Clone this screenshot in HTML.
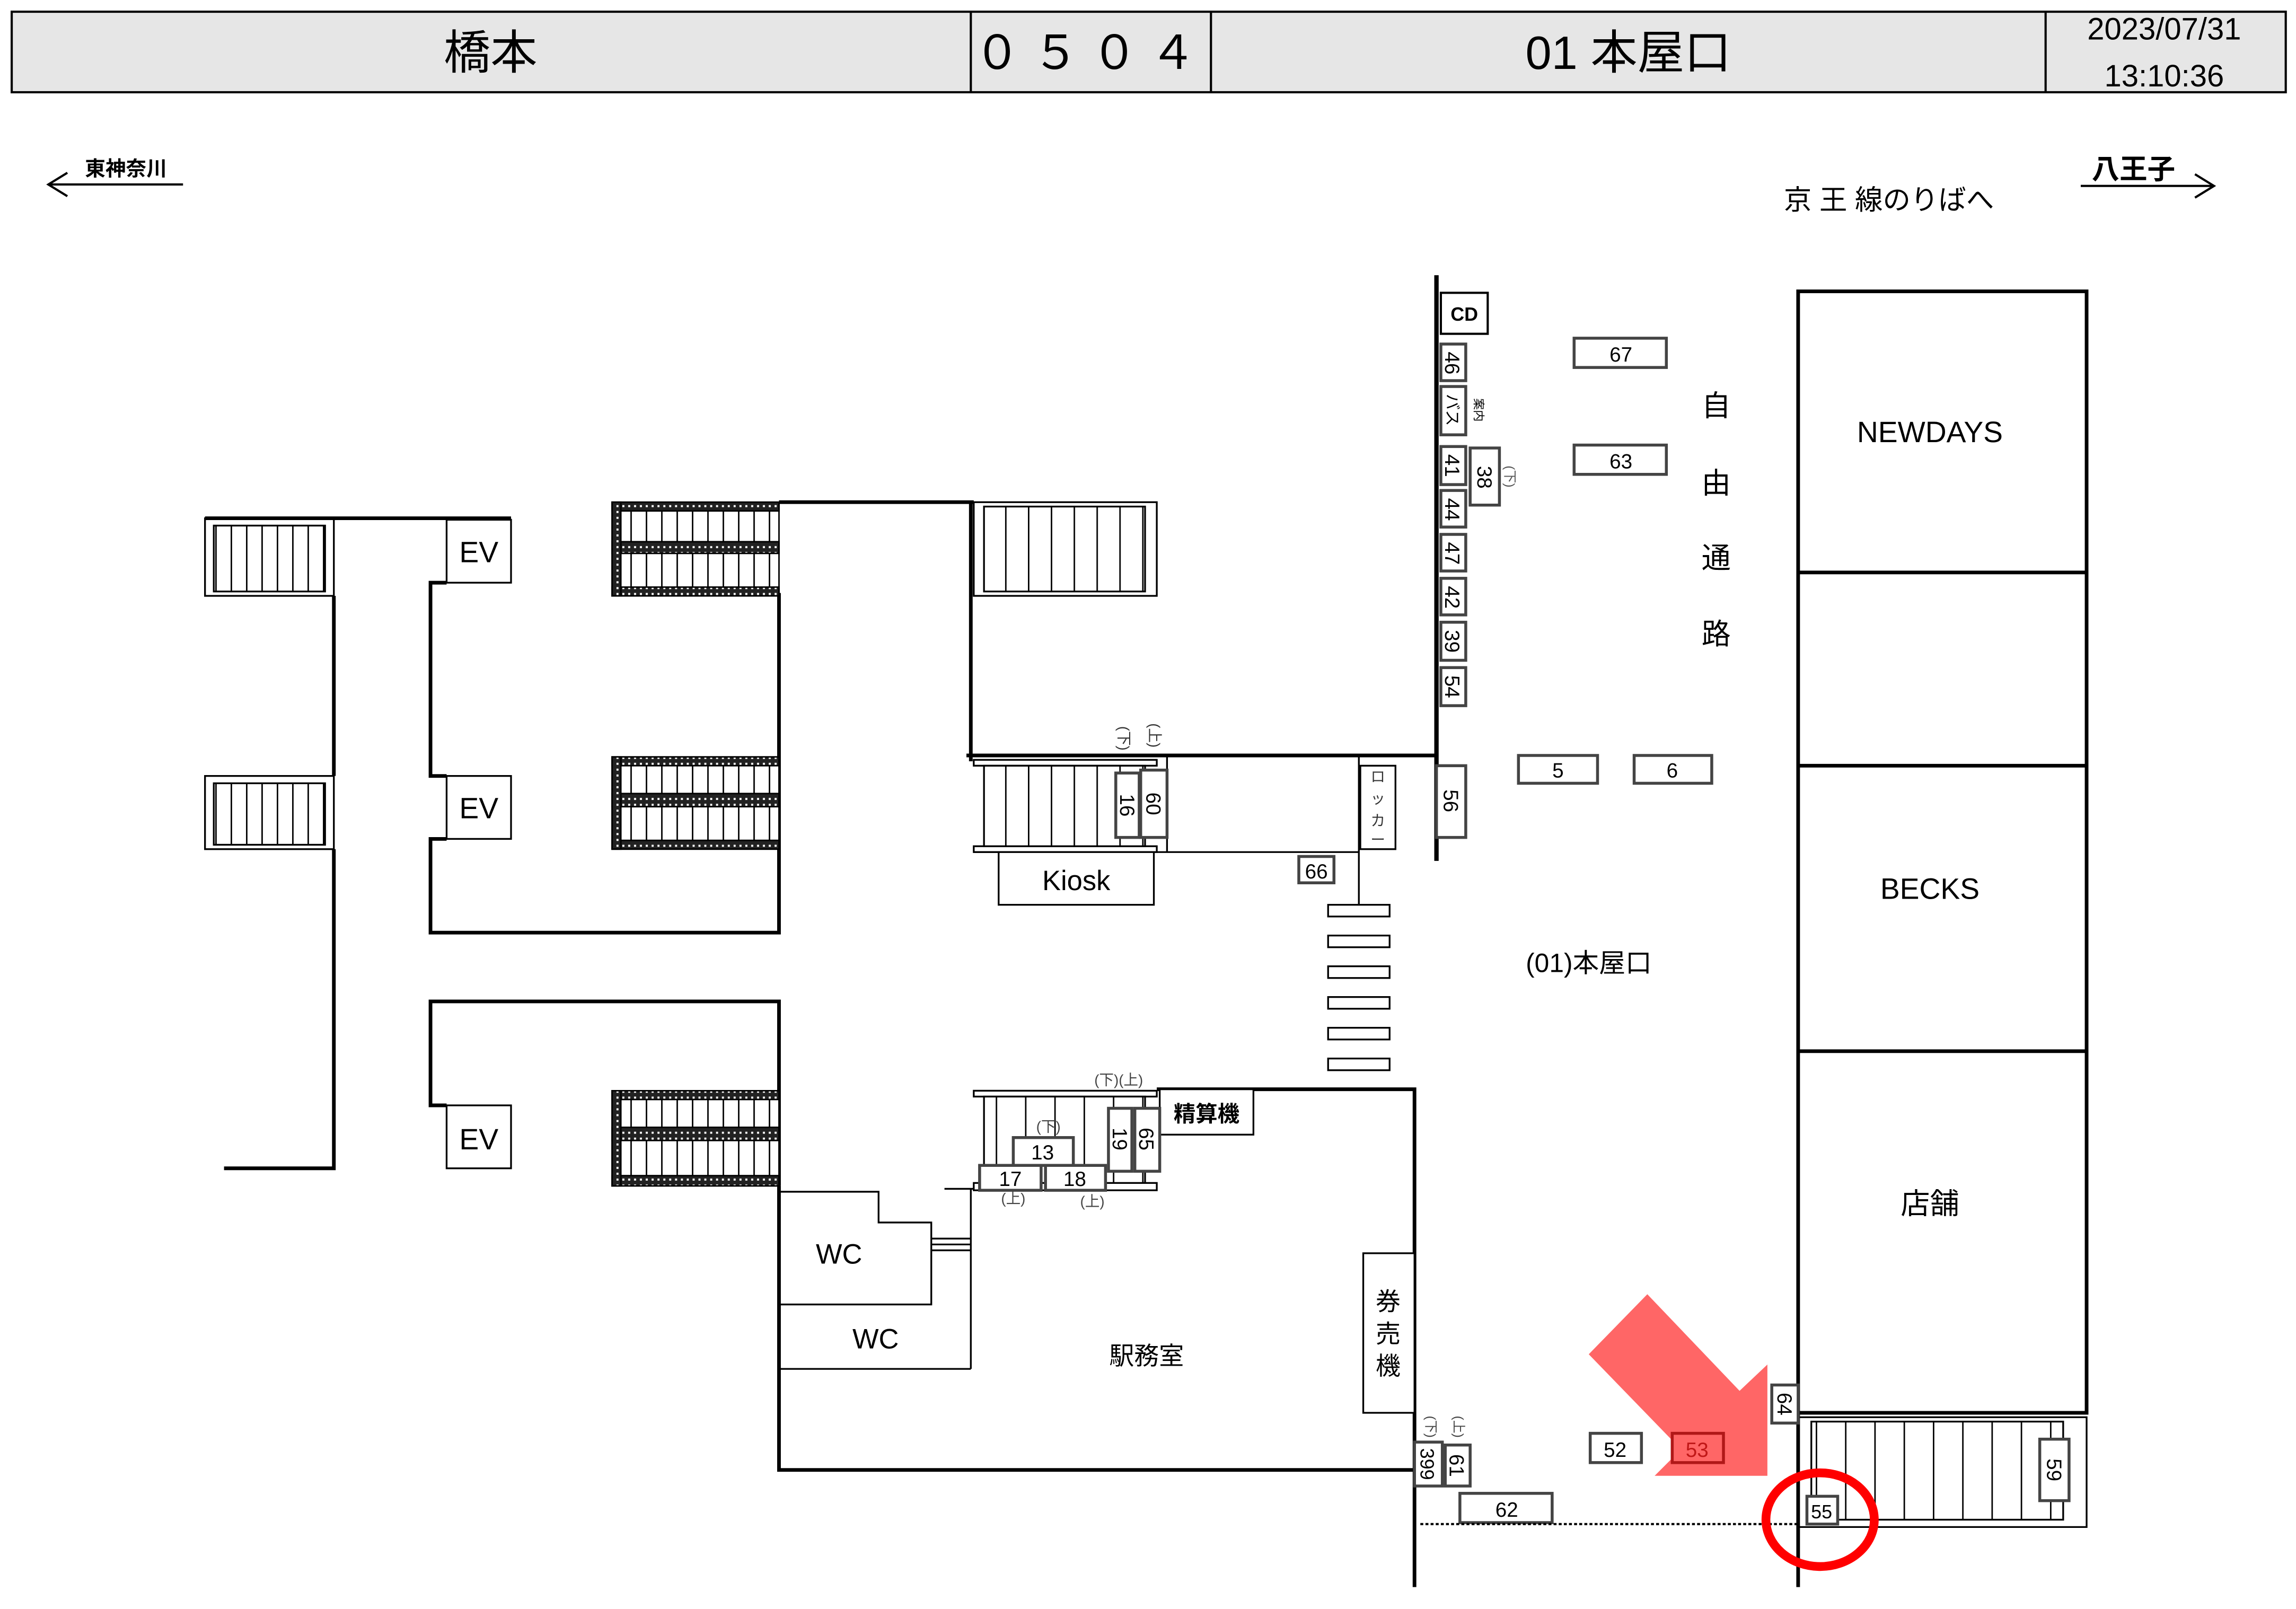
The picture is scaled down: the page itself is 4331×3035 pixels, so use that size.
<!DOCTYPE html>
<html><head><meta charset="utf-8"><style>html,body{margin:0;padding:0;background:#fff}svg{display:block}</style></head>
<body>
<svg width="4331" height="3035" viewBox="0 0 1568 1099" preserveAspectRatio="none" xmlns="http://www.w3.org/2000/svg" font-family="'Liberation Sans','Noto Sans CJK JP',sans-serif">
<defs>
<pattern id="st" width="10.5" height="20" patternUnits="userSpaceOnUse"><rect width="10.5" height="20" fill="#fff"/><line x1="0.5" y1="0" x2="0.5" y2="20" stroke="#000" stroke-width="1"/></pattern>
<pattern id="st2" width="15.6" height="20" patternUnits="userSpaceOnUse"><rect width="15.6" height="20" fill="#fff"/><line x1="0.5" y1="0" x2="0.5" y2="20" stroke="#000" stroke-width="1"/></pattern>
<pattern id="st3" width="20" height="20" patternUnits="userSpaceOnUse"><rect width="20" height="20" fill="#fff"/><line x1="0.5" y1="0" x2="0.5" y2="20" stroke="#000" stroke-width="1"/></pattern>
<pattern id="hat" width="4" height="4" patternUnits="userSpaceOnUse"><rect width="4" height="4" fill="#222"/><rect x="1" y="1" width="1.4" height="1.4" fill="#fff"/></pattern>
</defs>
<rect width="1568" height="1099" fill="#fff"/>
<!-- header -->
<rect x="8" y="8" width="1553" height="55" fill="#e6e6e6" stroke="#000" stroke-width="1.5"/>
<g stroke="#000" stroke-width="1.5"><line x1="663" y1="8" x2="663" y2="63"/><line x1="827" y1="8" x2="827" y2="63"/><line x1="1397" y1="8" x2="1397" y2="63"/></g>
<g text-anchor="middle" fill="#000">
<text x="335" y="47" font-size="32">橋本</text>
<text x="745" y="47" font-size="32" letter-spacing="8">０５０４</text>
<text x="1112" y="47" font-size="32">01 本屋口</text>
<text x="1478" y="27" font-size="21">2023/07/31</text>
<text x="1478" y="59" font-size="21">13:10:36</text>
</g>
<!-- direction arrows -->
<g stroke="#000" stroke-width="1.5" fill="none">
<line x1="33" y1="126" x2="125" y2="126"/><polyline points="46,118 33,126 46,134"/>
<line x1="1421" y1="127" x2="1512" y2="127"/><polyline points="1499,119 1512,127 1499,135"/>
</g>
<text x="86" y="120" font-size="14" font-weight="bold" text-anchor="middle">東神奈川</text>
<text x="1457" y="122" font-size="19" font-weight="bold" text-anchor="middle">八王子</text>
<text x="1290" y="143" font-size="19" text-anchor="middle">京 王 線のりばへ</text>

<!-- left structure -->
<g stroke="#000" stroke-width="2.5" fill="none">
<polyline points="140,354 349,354"/>
<polyline points="228,407 228,530"/>
<polyline points="228,580 228,798 153,798"/>
<polyline points="305,398 294,398 294,530 305,530"/>
<polyline points="305,573 294,573 294,637 532,637 532,405"/>
<polyline points="532,343 665,343"/>
<polyline points="532,810 532,684 294,684 294,755 305,755"/>
</g>
<g stroke="#000" stroke-width="1.2">
<rect x="140" y="354" width="88" height="53" fill="none"/><rect x="146" y="359" width="76" height="45" fill="url(#st)"/>
<rect x="140" y="530" width="88" height="50" fill="none"/><rect x="146" y="535" width="76" height="42" fill="url(#st)"/>
<rect x="305" y="355" width="44" height="43" fill="#fff"/><rect x="305" y="530" width="44" height="43" fill="#fff"/><rect x="305" y="755" width="44" height="43" fill="#fff"/>
</g>
<g font-size="20" text-anchor="middle"><text x="327" y="384">EV</text><text x="327" y="559">EV</text><text x="327" y="785">EV</text></g>
<!-- hatched stairs -->
<g stroke="#000" stroke-width="1">
<rect x="418" y="343" width="114" height="64" fill="url(#st)"/>
<rect x="418" y="343" width="114" height="6" fill="url(#hat)"/><rect x="418" y="370" width="114" height="8" fill="url(#hat)"/><rect x="418" y="401" width="114" height="6" fill="url(#hat)"/><rect x="418" y="343" width="6" height="64" fill="url(#hat)"/>
<rect x="418" y="517" width="114" height="63" fill="url(#st)"/>
<rect x="418" y="517" width="114" height="6" fill="url(#hat)"/><rect x="418" y="542" width="114" height="9" fill="url(#hat)"/><rect x="418" y="574" width="114" height="6" fill="url(#hat)"/><rect x="418" y="517" width="6" height="63" fill="url(#hat)"/>
<rect x="418" y="745" width="114" height="65" fill="url(#st)"/>
<rect x="418" y="745" width="114" height="6" fill="url(#hat)"/><rect x="418" y="770" width="114" height="9" fill="url(#hat)"/><rect x="418" y="803" width="114" height="7" fill="url(#hat)"/><rect x="418" y="745" width="6" height="65" fill="url(#hat)"/>
</g>

<!-- middle -->
<g stroke="#000" stroke-width="2.5" fill="none">
<line x1="663" y1="343" x2="663" y2="520"/>
<line x1="660" y1="516" x2="981" y2="516"/>
<line x1="981" y1="188" x2="981" y2="588" stroke-width="3"/>
</g>
<g stroke="#000" stroke-width="1.2">
<rect x="665" y="343" width="125" height="64" fill="none"/><rect x="672" y="346" width="110" height="58" fill="url(#st2)"/>
<rect x="665" y="519" width="125" height="4" fill="#fff"/><rect x="665" y="578" width="125" height="4" fill="#fff"/>
<rect x="672" y="523" width="110" height="55" fill="url(#st2)"/>
<line x1="665" y1="582" x2="928" y2="582"/>
<line x1="797" y1="516" x2="797" y2="582"/>
<rect x="682" y="582" width="106" height="36" fill="#fff"/>
<line x1="928" y1="516" x2="928" y2="622"/>
<rect x="929" y="523" width="24" height="57" fill="#fff"/>
<g fill="#fff"><rect x="907" y="618" width="42" height="8"/><rect x="907" y="639" width="42" height="8"/><rect x="907" y="660" width="42" height="8"/><rect x="907" y="681" width="42" height="8"/><rect x="907" y="702" width="42" height="8"/><rect x="907" y="723" width="42" height="8"/></g>
</g>
<text x="735" y="608" font-size="19" text-anchor="middle">Kiosk</text>
<g font-size="9" fill="#333" text-anchor="middle"><text x="941" y="534" font-size="10">ロ</text><text x="941" y="549" font-size="10">ッ</text><text x="941" y="564" font-size="10">カ</text><text x="941" y="577" font-size="10">ー</text></g>
<g font-size="10" fill="#333"><text transform="translate(764,496) rotate(90)">(下)</text><text transform="translate(785,494) rotate(90)">(上)</text></g>

<!-- number boxes -->
<g stroke="#444" stroke-width="2" fill="#fff">
<rect x="762" y="528" width="16" height="44"/><rect x="779" y="526" width="18" height="46"/>
<rect x="887" y="585" width="24" height="18"/>
<rect x="984" y="235" width="17" height="25"/><rect x="984" y="264" width="17" height="33"/>
<rect x="984" y="305" width="17" height="26"/><rect x="984" y="335" width="17" height="25"/>
<rect x="984" y="365" width="17" height="25"/><rect x="984" y="395" width="17" height="25"/>
<rect x="984" y="425" width="17" height="26"/><rect x="984" y="456" width="17" height="26"/>
<rect x="1004" y="306" width="20" height="39"/>
<rect x="981" y="523" width="20" height="49"/>
<rect x="1075" y="231" width="63" height="20"/><rect x="1075" y="304" width="63" height="20"/>
<rect x="1037" y="516" width="54" height="19"/><rect x="1116" y="516" width="53" height="19"/>
</g>
<rect x="984" y="200" width="32" height="28" fill="#fff" stroke="#000" stroke-width="1.5"/>
<text x="1000" y="219" font-size="13" text-anchor="middle" font-weight="bold">CD</text>
<g font-size="14" text-anchor="middle">
<text transform="translate(770,550) rotate(90)" dy="5">16</text>
<text transform="translate(788,549) rotate(90)" dy="5">60</text>
<text x="899" y="600">66</text>
<text transform="translate(992,248) rotate(90)" dy="5">46</text>
<text transform="translate(992,280) rotate(90)" dy="4" font-size="11">バス</text>
<text transform="translate(1010,280) rotate(90)" dy="3" font-size="8">案内</text>
<text transform="translate(992,318) rotate(90)" dy="5">41</text>
<text transform="translate(992,348) rotate(90)" dy="5">44</text>
<text transform="translate(992,378) rotate(90)" dy="5">47</text>
<text transform="translate(992,408) rotate(90)" dy="5">42</text>
<text transform="translate(992,438) rotate(90)" dy="5">39</text>
<text transform="translate(992,469) rotate(90)" dy="5">54</text>
<text transform="translate(1014,326) rotate(90)" dy="5">38</text>
<text transform="translate(991,547) rotate(90)" dy="5">56</text>
<text x="1107" y="247">67</text><text x="1107" y="320">63</text>
<text x="1064" y="531">5</text><text x="1142" y="531">6</text>
</g>
<text transform="translate(1028,318) rotate(90)" font-size="9" fill="#555">(下)</text>
<g font-size="20" text-anchor="middle"><text x="1172" y="284">自</text><text x="1172" y="337">由</text><text x="1172" y="388">通</text><text x="1172" y="440">路</text></g>
<text x="1085" y="664" font-size="18" text-anchor="middle">(01)本屋口</text>

<!-- lower office -->
<g stroke="#000" stroke-width="2.5" fill="none">
<polyline points="790,744 966,744 966,1004 532,1004 532,810"/>
<line x1="966" y1="1004" x2="966" y2="1084"/>
</g>
<g stroke="#000" stroke-width="1.2" fill="none">
<polyline points="532,814 600,814 600,835 636,835 636,891 532,891"/>
<line x1="532" y1="935" x2="663" y2="935"/>
<line x1="663" y1="812" x2="663" y2="935"/>
<line x1="636" y1="846" x2="663" y2="846"/><line x1="636" y1="850" x2="663" y2="850"/><line x1="636" y1="854" x2="663" y2="854"/>
<line x1="645" y1="812" x2="668" y2="812"/>
<rect x="665" y="745" width="125" height="4" fill="#fff"/>
<rect x="665" y="808" width="125" height="5" fill="#fff"/>
<rect x="672" y="749" width="110" height="59" fill="url(#st3)"/>
<rect x="792" y="744" width="64" height="31" fill="#fff"/>
<rect x="931" y="856" width="35" height="109" fill="#fff"/>
</g>
<g stroke="#444" stroke-width="2" fill="#fff">
<rect x="692" y="777" width="41" height="19"/><rect x="669" y="796" width="42" height="17"/><rect x="714" y="796" width="41" height="17"/>
<rect x="757" y="757" width="16" height="43"/><rect x="775" y="757" width="17" height="43"/>
<rect x="966" y="985" width="19" height="30"/><rect x="987" y="987" width="17" height="28"/>
<rect x="997" y="1020" width="63" height="20"/>
<rect x="1086" y="979" width="35" height="20"/>
</g>
<g font-size="14" text-anchor="middle">
<text x="712" y="792">13</text><text x="690" y="810">17</text><text x="734" y="810">18</text>
<text transform="translate(765,778) rotate(90)" dy="5">19</text>
<text transform="translate(783,778) rotate(90)" dy="5">65</text>
<text transform="translate(975,1000) rotate(90)" dy="5" font-size="13">399</text>
<text transform="translate(995,1001) rotate(90)" dy="5">61</text>
<text x="1029" y="1036">62</text><text x="1103" y="995">52</text>
</g>
<g font-size="10" fill="#444" text-anchor="middle"><text x="764" y="741">(下)(上)</text><text x="716" y="773">(下)</text><text x="692" y="822">(上)</text><text x="746" y="824">(上)</text></g>
<g font-size="9" fill="#444"><text transform="translate(974,967) rotate(90)">(下)</text><text transform="translate(993,967) rotate(90)">(上)</text></g>
<text x="824" y="766" font-size="15" font-weight="bold" text-anchor="middle">精算機</text>
<g font-size="17" text-anchor="middle"><text x="948" y="895">券</text><text x="948" y="917">売</text><text x="948" y="939">機</text></g>
<text x="573" y="863" font-size="19" text-anchor="middle">WC</text>
<text x="598" y="921" font-size="19" text-anchor="middle">WC</text>
<text x="783" y="932" font-size="17" text-anchor="middle">駅務室</text>

<line x1="970" y1="1041" x2="1228" y2="1041" stroke="#000" stroke-width="1.5" stroke-dasharray="2,1.5"/>

<!-- right stores -->
<g stroke="#000" stroke-width="2.5" fill="none">
<rect x="1228" y="199" width="197" height="766"/>
<line x1="1228" y1="391" x2="1425" y2="391"/><line x1="1228" y1="523" x2="1425" y2="523"/><line x1="1228" y1="718" x2="1425" y2="718"/>
<line x1="1228" y1="965" x2="1228" y2="1084"/>
</g>
<g stroke="#000" stroke-width="1.2">
<polyline points="1228,968 1425,968 1425,1043 1228,1043" fill="none"/>
<rect x="1237" y="971" width="172" height="67" fill="url(#st3)"/>
</g>
<g font-size="20" text-anchor="middle"><text x="1318" y="302">NEWDAYS</text><text x="1318" y="614">BECKS</text><text x="1318" y="829">店舗</text></g>
<g stroke="#444" stroke-width="2" fill="#fff">
<rect x="1393" y="983" width="20" height="42"/><rect x="1210" y="946" width="18" height="26"/><rect x="1234" y="1022" width="21" height="19"/>
</g>
<g font-size="14" text-anchor="middle">
<text transform="translate(1403,1004) rotate(90)" dy="5">59</text>
<text transform="translate(1219,959) rotate(90)" dy="5">64</text>
<text x="1244" y="1037" font-size="13">55</text>
</g>

<!-- red arrow -->
<polygon points="1125,884 1188,950 1207,932 1207,1008 1130,1008 1148,990 1085,925" fill="#ff6666"/>
<polygon points="1138,980 1145,989 1138,998" fill="#fff"/>
<rect x="1142" y="979" width="35" height="20" fill="#ff6666" stroke="#b01818" stroke-width="2"/>
<text x="1159" y="995" font-size="14" text-anchor="middle" fill="#c01818">53</text>
<ellipse cx="1243" cy="1038" rx="37" ry="32" fill="none" stroke="#ff0000" stroke-width="6"/>
</svg>
</body></html>
